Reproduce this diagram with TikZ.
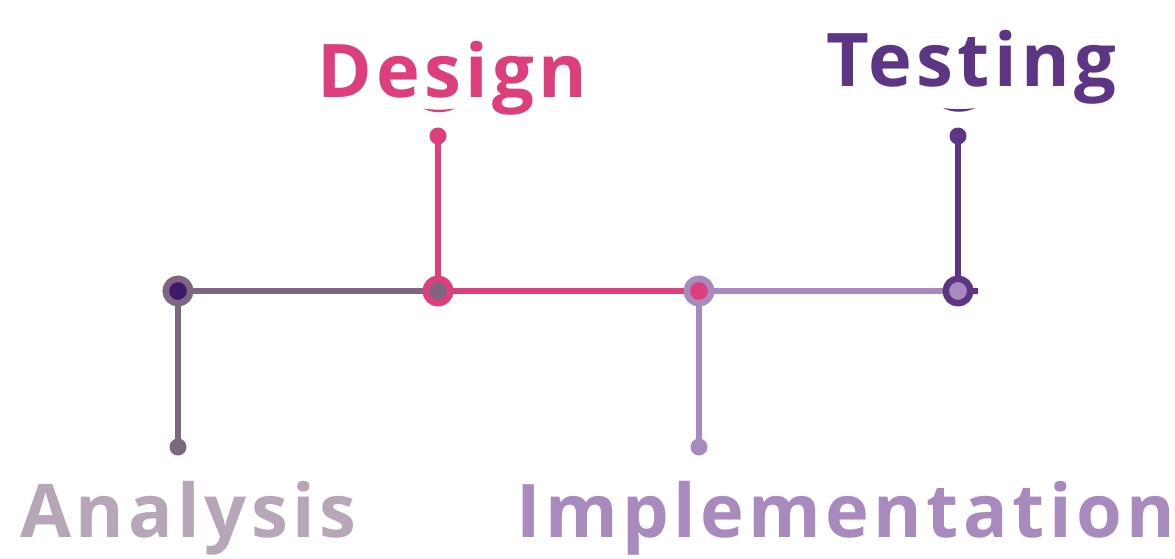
\documentclass[tikz,border=0pt]{standalone}
\usepackage{fontspec}
\setmainfont{Open Sans}
\usetikzlibrary{positioning,backgrounds}

\definecolor{grape}{HTML}{7E6581}
\definecolor{night}{HTML}{40196E}
\definecolor{rose}{HTML}{DD3F7C}
\definecolor{lilac}{HTML}{A98ABF}
\definecolor{plum}{HTML}{5E3585}
\definecolor{mist}{HTML}{B6A6B8}

\newfontfamily\labelfont[LetterSpace=6]{Open Sans Bold}

\tikzset{
  stage/.style={circle, draw=#1, line width=6.5pt, minimum size=24.5pt, inner sep=0pt},
  tip/.style={circle, fill=#1, minimum size=17pt, inner sep=0pt},
  phase/.style={text=#1, anchor=base west, inner sep=0pt, font=\labelfont\fontsize{74}{80}\selectfont},
  track/.style={line width=5.5pt, #1}
}

\begin{document}
\begin{tikzpicture}[x=1pt, y=-1pt]
\useasboundingbox (0,0) rectangle (1175,558);

\node[stage=grape, fill=night] (a) at (178, 291) {};
\node[stage=rose, fill=grape] (d) at (438, 291) {};
\node[stage=lilac, fill=rose] (i) at (699, 291) {};
\node[stage=plum, fill=lilac] (t) at (958, 291) {};
\coordinate (tend) at (978, 291);

\node[tip=grape] (ad) at (178, 447) {};
\node[tip=rose] (dd) at (438, 136) {};
\node[tip=lilac] (id) at (699, 447) {};
\node[tip=plum] (td) at (958, 136) {};

\begin{scope}[on background layer]
\draw[track=grape] (a.center) -- (d.center);
\draw[track=rose] (d.center) -- (i.center);
\draw[track=lilac] (i.center) -- (t.center);
\draw[track=plum] (t.center) -- (tend);

\draw[track=grape] (a.center) -- (ad.center);
\draw[track=rose] (d.center) -- (dd.center);
\draw[track=lilac] (i.center) -- (id.center);
\draw[track=plum] (t.center) -- (td.center);
\end{scope}

% small marks under the upper labels
\fill[rose] (423, 108.5) .. controls (433, 113.5) and (445, 113.5) .. (455, 108.5) .. controls (445, 110) and (433, 110) .. cycle;
\fill[plum] (943, 108) .. controls (953, 113) and (965, 113) .. (975, 108) .. controls (965, 109.5) and (953, 109.5) .. cycle;

\node[phase=rose] (design) at (317, 97) {Design};
\node[phase=plum] (testing) at (826, 86) {Testing};
\node[phase=mist] (analysis) at (20, 537) {Analysis};
\node[phase=lilac] (impl) at (516, 537) {Implementation};

\end{tikzpicture}
\end{document}
